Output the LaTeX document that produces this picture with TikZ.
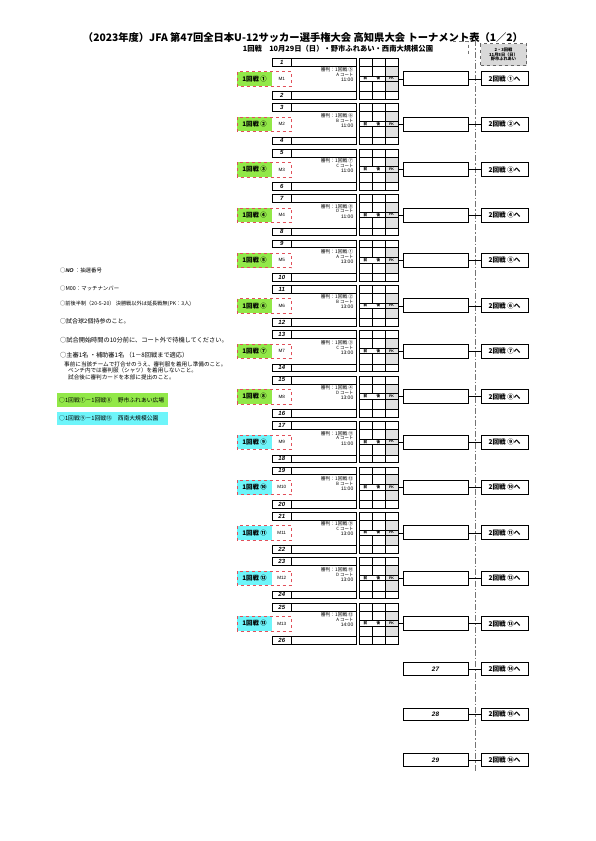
\documentclass[tikz,border=0pt]{standalone}
\usepackage{fontspec}
\setmainfont{Noto Sans CJK JP}
\newfontfamily\lat{Liberation Sans}
\definecolor{limeg}{RGB}{146,232,72}
\definecolor{aquac}{RGB}{110,245,250}
\definecolor{pkgrey}{RGB}{225,225,225}
\definecolor{dred}{RGB}{225,80,90}
\newcommand\myfs[1]{\fontsize{#1}{#1}\selectfont}
\begin{document}
\begin{tikzpicture}[x=1pt,y=-1pt,
  cell/.style={draw,line width=0.6pt,inner sep=0pt,outer sep=0pt},
  numcell/.style={cell,minimum width=19.5pt,minimum height=7.7pt,font=\lat\bfseries\itshape\myfs{6}},
  namecell/.style={cell,minimum width=65pt,minimum height=7.7pt},
  labbox/.style={inner sep=0pt,outer sep=0pt,minimum width=35pt,minimum height=14.4pt,font=\bfseries\myfs{6.3}},
  mbox/.style={inner sep=0pt,outer sep=0pt,minimum width=19.5pt,minimum height=14.4pt,font=\lat\myfs{4.6}},
  gridbox/.style={draw,line width=0.6pt,inner sep=0pt,outer sep=0pt,minimum width=39pt,minimum height=41pt},
  resbox/.style={cell,line width=0.7pt,minimum width=65pt,minimum height=14pt},
  nxtbox/.style={cell,line width=0.7pt,minimum width=47pt,minimum height=14pt,font=\bfseries\myfs{6.6}},
  reftext/.style={anchor=east,inner sep=0pt,font=\myfs{4.8}},
  legend/.style={anchor=west,inner sep=0pt},
  conn/.style={line width=0.6pt},
  dashdot/.style={draw=black!55,line width=0.7pt,dash pattern=on 6pt off 2pt on 1.5pt off 2pt}
]
\useasboundingbox (0,0) rectangle (595,841);
\fill[white] (0,0) rectangle (595,841);

% title
\node[inner sep=0pt,font=\bfseries\myfs{10.3}] (title) at (303,38) {（2023年度）JFA 第47回全日本U-12サッカー選手権大会 高知県大会 トーナメント表（1／2）};
\node[inner sep=0pt,font=\bfseries\myfs{7.3}] (sub) at (338,48.5) {1回戦　10月29日（日）・野市ふれあい・西南大規模公園};
\draw[black!55,dashed,line width=0.6pt] (453,41.7) -- (468,41.7) -- (468,56.7);

% right schedule box
\node[draw=black!60,dashed,fill=black!15,line width=0.6pt,minimum width=46pt,minimum height=22pt,inner sep=0pt,align=center,font=\bfseries\myfs{4.2}] (sched) at (503.5,54.5) {2・3回戦\\11月5日（日）\\野市ふれあい};
\draw[dashdot] (475,40) -- (475,771);

% legend
\node[legend,font=\myfs{5.4}] (lg1) at (60,270) {○{\lat\bfseries\itshape NO} ：抽選番号};
\node[legend,font=\myfs{5.4}] (lg2) at (60,288) {○M00：マッチナンバー};
\node[legend,font=\myfs{5.2}] (lg3) at (60,303.3) {○前後半制（20-5-20）  決勝戦以外は延長戦無(PK：3人)};
\node[legend,font=\myfs{6}] (lg4) at (60,321.7) {○試合球2個持参のこと。};
\node[legend,font=\myfs{6.2}] (lg5) at (60,340) {○試合開始時間の10分前に、コート外で待機してください。};
\node[legend,font=\myfs{6.2}] (lg6) at (60,355) {○主審1名 ・補助審1名 （1－8回戦まで適応）};
\node[legend,font=\myfs{5.6}] (lg7) at (64,364) {事前に当該チームで打合せのうえ、審判服を着用し準備のこと。};
\node[legend,font=\myfs{5.6}] (lg8) at (68,370.8) {ベンチ内では審判服（シャツ）を着用しないこと。};
\node[legend,font=\myfs{5.6}] (lg9) at (68,377.7) {試合後に審判カードを本部に提出のこと。};
\fill[limeg] (56.7,393.3) rectangle (168,406.7);
\node[legend,font=\myfs{5.8}] (lg10) at (59,400) {○1回戦①－1回戦⑧　野市ふれあい広場};
\fill[aquac] (56.7,411.7) rectangle (168,425);
\node[legend,font=\myfs{5.8}] (lg11) at (59,418.3) {○1回戦⑨－1回戦⑬　西南大規模公園};

% matches
\foreach \k/\c/\rf/\ct/\tm/\col in {
0/①/⑤/A/11:00/limeg,
1/②/⑥/B/11:00/limeg,
2/③/⑦/C/11:00/limeg,
3/④/⑧/D/11:00/limeg,
4/⑤/①/A/13:00/limeg,
5/⑥/②/B/13:00/limeg,
6/⑦/③/C/13:00/limeg,
7/⑧/④/D/13:00/limeg,
8/⑨/⑪/A/11:00/aquac,
9/⑩/⑫/B/11:00/aquac,
10/⑪/⑨/C/13:00/aquac,
11/⑫/⑩/D/13:00/aquac,
12/⑬/⑫/A/14:00/aquac}
{
  \pgfmathsetmacro\cy{78.8+45.4*\k}
  \pgfmathtruncatemacro\a{2*\k+1}
  \pgfmathtruncatemacro\b{2*\k+2}
  \pgfmathtruncatemacro\m{\k+1}
  % team rows
  \node[numcell] (n\a) at (281.75,\cy-16.65) {\a};
  \node[namecell,anchor=west] (t\a) at (n\a.east) {};
  \node[numcell] (n\b) at (281.75,\cy+16.65) {\b};
  \node[namecell,anchor=west] (t\b) at (n\b.east) {};
  % score grid
  \fill[pkgrey] (385,\cy-12.8) rectangle (398,\cy+12.8);
  \node[gridbox] (g\k) at (378.5,\cy) {};
  \draw[line width=0.5pt] (372,\cy-20.5) -- (372,\cy+20.5)
        (385,\cy-20.5) -- (385,\cy+20.5)
        (359,\cy-12.8) -- (398,\cy-12.8)
        (359,\cy+12.8) -- (398,\cy+12.8);
  \draw[line width=0.5pt,fill=white] (359,\cy-3) rectangle (385,\cy+2.5);
  \draw[line width=0.5pt,fill=pkgrey] (385,\cy-3) rectangle (398,\cy+2.5);
  \node[inner sep=0pt,font=\bfseries\myfs{3.6}] (f\k) at (365.5,\cy-0.25) {前};
  \node[inner sep=0pt,font=\bfseries\myfs{3.6}] (h\k) at (378.5,\cy-0.25) {後};
  \node[inner sep=0pt,font=\lat\bfseries\myfs{3.6}] (p\k) at (391.5,\cy-0.25) {PK};
  % double line
  \draw[line width=0.8pt] (356,\cy-20.5) -- (356,\cy+20.5);
  \draw[line width=0.8pt] (359,\cy-20.5) -- (359,\cy+20.5);
  % referee text
  \node[reftext] (rf\k) at (353.5,\cy-8.8) {審判：1回戦 \rf};
  \node[reftext,font=\myfs{4.4}] (ct\k) at (353.5,\cy-3.8) {\ct\ コート};
  \node[reftext,font=\lat\myfs{5}] (tm\k) at (353.5,\cy+1.3) {\tm};
  % label
  \node[labbox,fill=\col] (L\k) at (254.5,\cy) {1回戦 \c};
  \node[mbox] (M\k) at (281.75,\cy) {M\m};
  \draw[dred,dashed,line width=0.6pt] (237,\cy-7.2) rectangle (291.5,\cy+7.2);
  % result and next
  \node[resbox] (r\k) at (435.5,\cy) {};
  \node[nxtbox] (x\k) at (504.5,\cy) {2回戦 \c へ};
  \draw[conn] (g\k.east) -- (r\k.west);
  \draw[conn] (r\k.east) -- (x\k.west);
}

% seeded rows 27-29
\foreach \j/\nn/\c in {0/27/⑭,1/28/⑮,2/29/⑯}
{
  \pgfmathsetmacro\cy{669+45.4*\j}
  \node[resbox,minimum height=12.7pt,font=\lat\bfseries\itshape\myfs{6.4}] (s\nn) at (435.5,\cy) {\nn};
  \node[nxtbox,minimum height=12.7pt] (y\nn) at (504.5,\cy) {2回戦 \c へ};
  \draw[conn] (s\nn.east) -- (y\nn.west);
}
\end{tikzpicture}
\end{document}
